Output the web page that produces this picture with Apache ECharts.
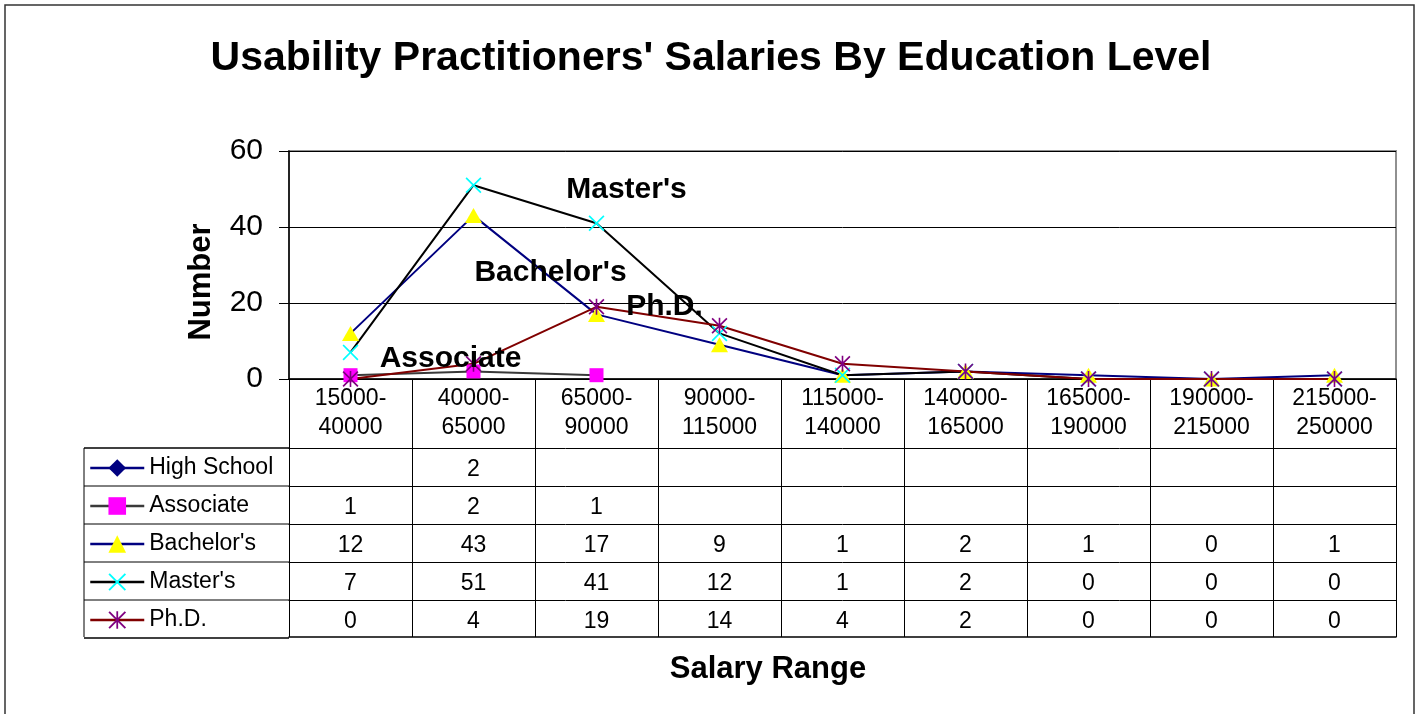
<!DOCTYPE html>
<html>
<head>
<meta charset="utf-8">
<script src="https://cdn.jsdelivr.net/npm/echarts@6/dist/echarts.min.js"></script>
<style>
html,body{margin:0;padding:0;background:#fff;}
#chart{width:1416px;height:714px;}
</style>
</head>
<body>
<div id="chart"></div>
<script>
// salary ranges (x categories)
var salaryRanges=['15000-\n40000','40000-\n65000','65000-\n90000','90000-\n115000','115000-\n140000',
	'140000-\n165000','165000-\n190000','190000-\n215000','215000-\n250000'];
var yTicks=[0,20,40,60];
// counts per education level
var highSchool=[null,2,null,null,null,null,null,null,null];
var associate=[1,2,1,null,null,null,null,null,null];
var bachelors=[12,43,17,9,1,2,1,0,1];
var masters=[7,51,41,12,1,2,0,0,0];
var phd=[0,4,19,14,4,2,0,0,0];
var seriesNames=['High School','Associate',"Bachelor's","Master's",'Ph.D.'];

var FONT='"Liberation Sans", Arial, sans-serif';
var xMark='path://M0,1.5L1.5,0L10,8.5L18.5,0L20,1.5L11.5,10L20,18.5L18.5,20L10,11.5L1.5,20L0,18.5L8.5,10Z';
var starMark='path://M0,1.5L1.5,0L10,8.5L18.5,0L20,1.5L11.5,10L20,18.5L18.5,20L10,11.5L1.5,20L0,18.5L8.5,10Z M9,0L11,0L11,20L9,20Z';

var rows=[highSchool,associate,bachelors,masters,phd];

//series name labels placed next to one point
function withLabel(arr,idx,text,offset){
	return arr.map(function(v,i){
		if(i!==idx || v==null)return v;
		return {value:v,label:{show:true,position:'inside',formatter:text,offset:offset,
			fontSize:30,fontWeight:'bold',color:'#000',fontFamily:FONT}};
	});
}

var chart=echarts.init(document.getElementById('chart'));

var xAxes=[{
	type:'category',data:salaryRanges,position:'bottom',gridIndex:0,
	axisLine:{lineStyle:{color:'#000',width:1.5}},
	axisTick:{show:true,length:258,alignWithLabel:false,interval:0,lineStyle:{color:'#000',width:1}},
	axisLabel:{interval:0,fontSize:23,lineHeight:29,margin:5,color:'#000',fontFamily:FONT}
}];
//data table rows as extra axes
for(var r=0;r<rows.length;r++){
	(function(r){
		xAxes.push({
			type:'category',data:salaryRanges,position:'bottom',offset:69+38*r,gridIndex:0,
			axisLine:{lineStyle:{color:'#000',width:1}},
			axisTick:{show:false},
			axisLabel:{interval:0,fontSize:23,lineHeight:23,margin:10,color:'#000',fontFamily:FONT,
				formatter:function(v,i){return rows[r][i]==null?'':String(rows[r][i]);}}
		});
	})(r);
}
xAxes.push({
	type:'category',data:salaryRanges,position:'bottom',offset:258,gridIndex:0,
	axisLine:{lineStyle:{color:'#000',width:1.5}},axisTick:{show:false},axisLabel:{show:false}
});

var tableLines=[];
for(var k=0;k<6;k++){
	var yy=448+38*k;
	tableLines.push({type:'line',shape:{x1:84,y1:yy,x2:289,y2:yy},style:{stroke:'#000',lineWidth:k==0||k==5?1.5:1}});
}
tableLines.push({type:'line',shape:{x1:84,y1:448,x2:84,y2:637},style:{stroke:'#000',lineWidth:1}});
tableLines.push({type:'rect',shape:{x:5,y:5,width:1409,height:730},style:{fill:'none',stroke:'#333',lineWidth:1.5},z:-1});

var option={
	animation:false,
	backgroundColor:'#fff',
	title:[{
		text:"Usability Practitioners' Salaries By Education Level",
		left:711,top:38,textAlign:'center',padding:0,
		textStyle:{fontSize:41,fontWeight:'bold',color:'#000',fontFamily:FONT}
	},{
		text:'Salary Range',left:768,top:654,textAlign:'center',padding:0,
		textStyle:{fontSize:31,fontWeight:'bold',color:'#000',fontFamily:FONT}
	}],
	legend:{
		orient:'vertical',left:89,top:456,padding:0,
		itemWidth:54,itemHeight:22,itemGap:14,
		textStyle:{fontSize:23,lineHeight:24,color:'#000',fontFamily:FONT},
		lineStyle:{width:2.5},
		data:seriesNames
	},
	grid:{left:289,right:20,top:151,bottom:335,show:true,borderColor:'#909090',borderWidth:2},
	xAxis:xAxes,
	yAxis:{
		type:'value',min:yTicks[0],max:yTicks[yTicks.length-1],interval:20,
		name:'Number',nameLocation:'middle',nameGap:72,nameRotate:90,
		nameTextStyle:{fontSize:31,fontWeight:'bold',color:'#000',fontFamily:FONT,padding:[0,34,0,0]},
		axisLine:{show:true,lineStyle:{color:'#000',width:1.5}},
		axisTick:{show:true,length:10,lineStyle:{color:'#000'}},
		axisLabel:{fontSize:30,margin:26,color:'#000',fontFamily:FONT},
		splitLine:{lineStyle:{color:'#000',width:1}}
	},
	graphic:tableLines,
	series:[{
		name:'High School',type:'line',data:highSchool,
		symbol:'diamond',symbolSize:13,showSymbol:true,
		lineStyle:{color:'#000080',width:2},itemStyle:{color:'#000080'}
	},{
		name:'Associate',type:'line',data:withLabel(associate,1,'Associate',[-23,-13]),
		symbol:'rect',symbolSize:14,
		lineStyle:{color:'#3a3a3a',width:2},itemStyle:{color:'#ff00ff'}
	},{
		name:"Bachelor's",type:'line',data:withLabel(bachelors,2,"Bachelor's",[-46,-42]),
		symbol:'triangle',symbolSize:[17,15],
		lineStyle:{color:'#000080',width:2},itemStyle:{color:'#ffff00'}
	},{
		name:"Master's",type:'line',data:withLabel(masters,2,"Master's",[30,-33]),
		symbol:xMark,symbolSize:16,
		lineStyle:{color:'#000',width:2},itemStyle:{color:'#00ffff'}
	},{
		name:'Ph.D.',type:'line',data:withLabel(phd,2,'Ph.D.',[68,0]),
		symbol:starMark,symbolSize:16,
		lineStyle:{color:'#800000',width:2},itemStyle:{color:'#800080'}
	}]
};
chart.setOption(option);
</script>
</body>
</html>
